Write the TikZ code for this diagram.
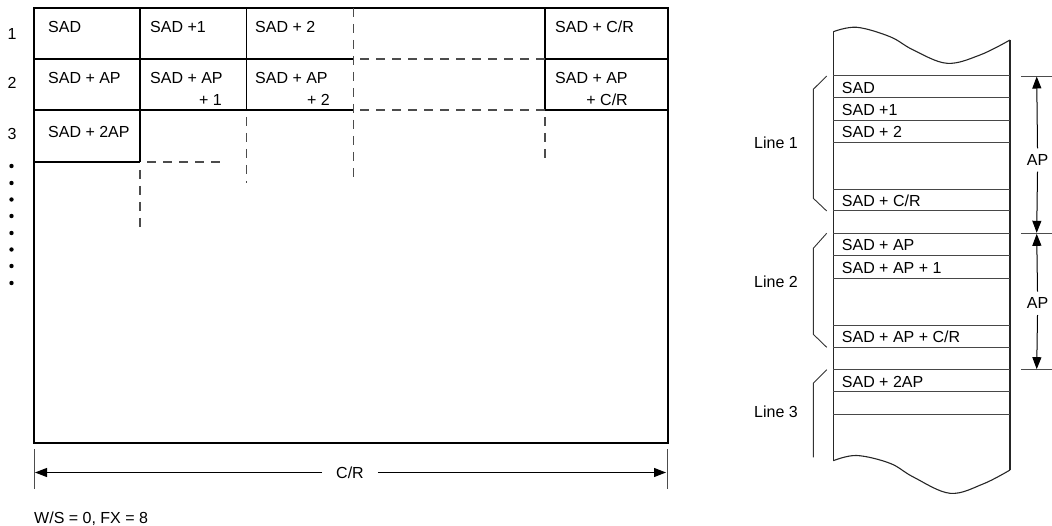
\documentclass[tikz,border=0pt]{standalone}
\usepackage{fontspec}
\setmainfont{Liberation Sans}
\usetikzlibrary{arrows.meta}
\begin{document}
\begin{tikzpicture}[x=1pt,y=-1pt,
  txt/.style={inner sep=0pt, anchor=base west, font=\fontsize{16}{19}\selectfont},
  txtr/.style={txt, anchor=base east},
  txtc/.style={txt, anchor=base},
  gridline/.style={line width=1.1pt, black},
  dsh/.style={line width=1.1pt, dash pattern=on 9pt off 7pt, black!70},
  mem/.style={line width=1pt, black!72},
  memedge/.style={line width=1.1pt, black!85},
  brace/.style={line width=0.9pt, black!80},
  dimarrow/.style={line width=1pt, black, -{Triangle[length=12pt,width=9pt]}},
  tick/.style={line width=0.9pt, black!70},
  dot/.style={black}
]
\useasboundingbox (0,0) rectangle (1052,526);

% ---------------- left grid ----------------
\draw[gridline] (34,8) rectangle (668,443);
\draw[gridline] (140,8) -- (140,162);
\draw[gridline] (246.7,8) -- (246.7,110);
\draw[gridline] (545,8) -- (545,110);
\draw[gridline] (34,59) -- (353.3,59);
\draw[gridline] (545,59) -- (668,59);
\draw[gridline] (34,110) -- (353.3,110);
\draw[gridline] (545,110) -- (668,110);
\draw[gridline] (34,162) -- (140,162);

\draw[dsh] (353.3,8) -- (353.3,183);
\draw[dsh] (360,59) -- (545,59);
\draw[dsh] (360,110) -- (545,110);
\draw[dsh] (147,162) -- (222,162);
\draw[dsh] (140,170) -- (140,233);
\draw[dsh] (246.7,117) -- (246.7,183);
\draw[dsh] (545,117) -- (545,165);

% row labels
\node[txtc] (r1) at (12,39.5) {1};
\node[txtc] (r2) at (12,88.5) {2};
\node[txtc] (r3) at (12,140) {3};
\foreach \i/\yy in {1/166,2/183,3/199.5,4/216,5/233,6/249.5,7/266,8/283}
  \fill[dot] (11.5,\yy) circle (2.2pt) coordinate (dot\i);

% cell texts
\node[txt] (c11) at (48,32.5) {SAD};
\node[txt] (c12) at (150,32.5) {SAD +1};
\node[txt] (c13) at (255,32.5) {SAD + 2};
\node[txt] (c15) at (555,32.5) {SAD + C/R};
\node[txt] (c21) at (48,83.5) {SAD + AP};
\node[txt] (c22) at (150,83.5) {SAD + AP};
\node[txt] (c23) at (255,83.5) {SAD + AP};
\node[txt] (c25) at (555,83.5) {SAD + AP};
\node[txtr] (c22b) at (222,106) {+ 1};
\node[txtr] (c23b) at (330,106) {+ 2};
\node[txtr] (c25b) at (628,106) {+ C/R};
\node[txt] (c31) at (48,137.5) {SAD + 2AP};

% C/R dimension
\draw[tick] (34,449) -- (34,489);
\draw[tick] (667,449) -- (667,489);
\coordinate (crl) at (35,472.5);
\coordinate (crr) at (666,472.5);
\node[font=\fontsize{16}{19}\selectfont, inner xsep=14pt, inner ysep=0pt] (crlab) at (350,472.5) {C/R};
\draw[dimarrow] (crlab.west) -- (crl);
\draw[dimarrow] (crlab.east) -- (crr);

\node[txt] (ws) at (34,523) {W/S = 0, FX = 8};

% ---------------- right memory strip ----------------
\draw[memedge] (833.3,31.7) -- (833.3,460.7);
\draw[memedge] (1010,40) -- (1010,470);
\draw[memedge] plot[smooth, tension=0.6] coordinates {(833.3,31.7) (856.7,27.3) (890,36.7) (913.3,50) (947,63.3) (980,55) (1010,40)};
\draw[memedge] plot[smooth, tension=0.6] coordinates {(833.3,460.7) (856.7,455.5) (890,463.3) (913.3,477) (950,493.3) (983,484) (1010,470)};

\foreach \yy in {76,98,120.7,142.3,189.3,211,233.3,255.7,278.3,325.3,347.3,369.7,392,414}
  \draw[mem] (833.3,\yy) -- (1010,\yy);

\node[txt] (m1) at (841.7,93.5) {SAD};
\node[txt] (m2) at (841.7,116) {SAD +1};
\node[txt] (m3) at (841.7,138) {SAD + 2};
\node[txt] (m4) at (841.7,206.5) {SAD + C/R};
\node[txt] (m5) at (841.7,251) {SAD + AP};
\node[txt] (m6) at (841.7,273.7) {SAD + AP + 1};
\node[txt] (m7) at (841.7,342.8) {SAD + AP + C/R};
\node[txt] (m8) at (841.7,387.5) {SAD + 2AP};

% braces
\draw[brace] (826.7,76) -- (813.3,89.3) -- (813.3,198.3) -- (826.7,211);
\draw[brace] (826.7,233.3) -- (813.3,248.3) -- (813.3,334.3) -- (826.7,347.3);
\draw[brace] (826.7,369.7) -- (813.3,383.3) -- (813.3,457.3);

\node[txt] (l1) at (754,149) {Line 1};
\node[txt] (l2) at (754,287.5) {Line 2};
\node[txt] (l3) at (754,417.5) {Line 3};

% AP dimensions
\draw[tick] (1021,76) -- (1052,76);
\draw[tick] (1021,233.3) -- (1052,233.3);
\draw[tick] (1021,369.7) -- (1052,369.7);
\coordinate (a1) at (1036.7,76.5);
\coordinate (a2) at (1036.7,232.8);
\coordinate (a3) at (1036.7,233.8);
\coordinate (a4) at (1036.7,369.2);
\node[font=\fontsize{16}{19}\selectfont, inner xsep=0pt, inner ysep=6pt] (ap1) at (1037.5,160) {AP};
\node[font=\fontsize{16}{19}\selectfont, inner xsep=0pt, inner ysep=6pt] (ap2) at (1037.5,303.3) {AP};
\draw[dimarrow] (ap1.north) -- (a1);
\draw[dimarrow] (ap1.south) -- (a2);
\draw[dimarrow] (ap2.north) -- (a3);
\draw[dimarrow] (ap2.south) -- (a4);
\end{tikzpicture}
\end{document}
